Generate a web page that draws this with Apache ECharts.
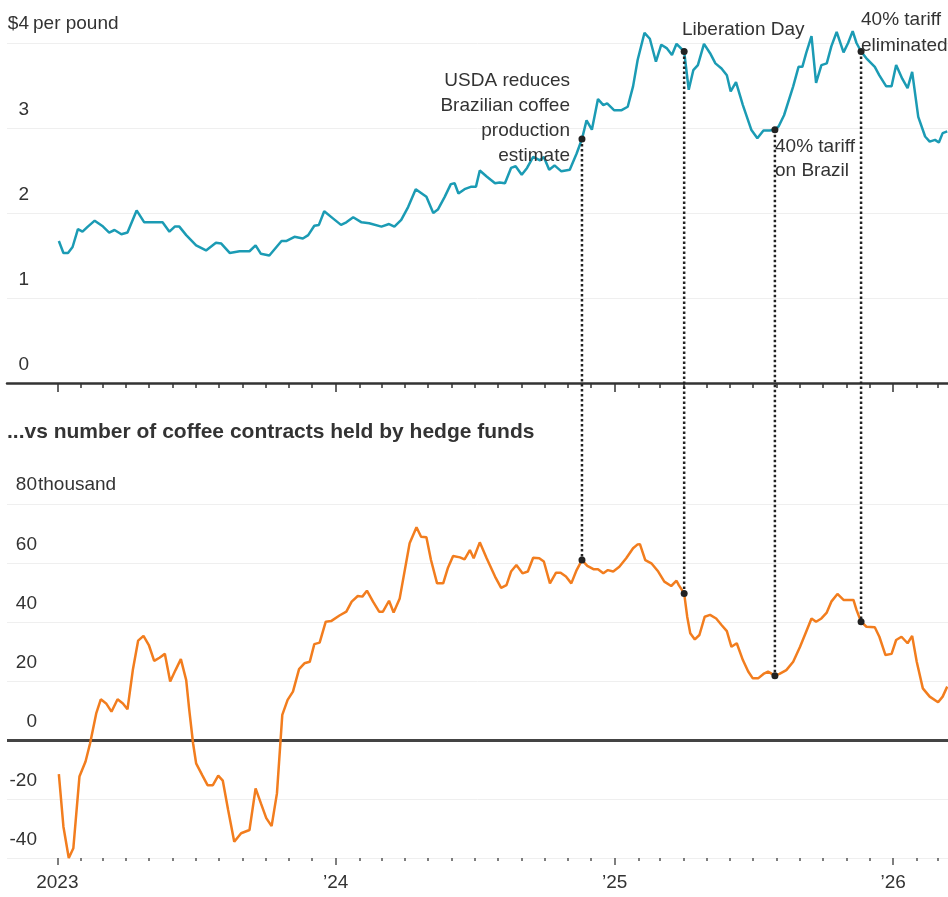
<!DOCTYPE html>
<html>

<head>
    <meta charset="UTF-8">
    <title>Coffee price vs hedge fund contracts</title>
    <script src="https://cdn.jsdelivr.net/npm/echarts@6/dist/echarts.min.js"></script>
    <style>
        html, body { margin: 0; padding: 0; background: #fff; }
        #chartBox { width: 948px; height: 897px; }
    </style>
</head>

<body>
    <div id="chartBox"></div>

    <script>
        // arabica coffee price, $ per pound
        var priceDates = ['2023-01-03', '2023-01-09', '2023-01-15', '2023-01-21', '2023-01-28', '2023-02-03', '2023-02-10', '2023-02-19',
            '2023-03-02', '2023-03-10', '2023-03-17', '2023-03-26', '2023-04-03', '2023-04-15', '2023-04-25', '2023-05-19',
            '2023-05-28', '2023-06-04', '2023-06-10', '2023-06-19', '2023-07-02', '2023-07-15', '2023-07-28', '2023-08-04',
            '2023-08-15', '2023-08-28', '2023-09-10', '2023-09-18', '2023-09-25', '2023-10-06', '2023-10-22', '2023-10-28',
            '2023-11-08', '2023-11-19', '2023-11-26', '2023-12-04', '2023-12-10', '2023-12-17', '2023-12-28', '2024-01-08',
            '2024-01-15', '2024-01-24', '2024-02-04', '2024-02-14', '2024-03-01', '2024-03-11', '2024-03-18', '2024-03-27',
            '2024-04-05', '2024-04-15', '2024-04-29', '2024-05-08', '2024-05-14', '2024-05-23', '2024-05-31', '2024-06-05',
            '2024-06-10', '2024-06-18', '2024-06-27', '2024-07-03', '2024-07-08', '2024-07-17', '2024-07-28', '2024-08-03',
            '2024-08-10', '2024-08-18', '2024-08-24', '2024-09-01', '2024-09-08', '2024-09-16', '2024-09-25', '2024-09-30',
            '2024-10-07', '2024-10-14', '2024-10-23', '2024-11-03', '2024-11-12', '2024-11-19', '2024-11-25', '2024-12-02',
            '2024-12-10', '2024-12-17', '2024-12-22', '2024-12-31', '2025-01-10', '2025-01-18', '2025-01-25', '2025-01-31',
            '2025-02-09', '2025-02-16', '2025-02-24', '2025-03-03', '2025-03-10', '2025-03-17', '2025-03-23', '2025-04-02',
            '2025-04-08', '2025-04-14', '2025-04-20', '2025-04-28', '2025-05-06', '2025-05-13', '2025-05-21', '2025-05-28',
            '2025-06-02', '2025-06-09', '2025-06-18', '2025-06-29', '2025-07-07', '2025-07-15', '2025-07-23', '2025-07-30',
            '2025-08-04', '2025-08-11', '2025-08-23', '2025-08-30', '2025-09-04', '2025-09-09', '2025-09-16', '2025-09-22',
            '2025-09-29', '2025-10-06', '2025-10-12', '2025-10-19', '2025-10-28', '2025-11-03', '2025-11-09', '2025-11-14',
            '2025-11-20', '2025-11-27', '2025-12-08', '2025-12-14', '2025-12-23', '2025-12-30', '2026-01-05', '2026-01-13',
            '2026-01-20', '2026-01-26', '2026-02-03', '2026-02-12', '2026-02-18', '2026-02-25', '2026-03-02', '2026-03-07',
            '2026-03-13'];
        var priceValues = [1.67, 1.53, 1.53, 1.60, 1.81, 1.78, 1.84, 1.91,
            1.84, 1.77, 1.80, 1.75, 1.77, 2.03, 1.89, 1.89,
            1.78, 1.84, 1.84, 1.74, 1.62, 1.56, 1.65, 1.64,
            1.53, 1.55, 1.55, 1.62, 1.52, 1.50, 1.67, 1.67,
            1.72, 1.70, 1.74, 1.85, 1.86, 2.02, 1.94, 1.86,
            1.89, 1.95, 1.89, 1.88, 1.84, 1.87, 1.84, 1.92,
            2.07, 2.28, 2.19, 2.00, 2.04, 2.19, 2.34, 2.35,
            2.23, 2.28, 2.31, 2.31, 2.50, 2.43, 2.35, 2.36,
            2.35, 2.53, 2.55, 2.45, 2.53, 2.66, 2.62, 2.66,
            2.51, 2.56, 2.49, 2.51, 2.70, 2.87, 3.09, 2.98,
            3.34, 3.27, 3.29, 3.21, 3.21, 3.25, 3.49, 3.80,
            4.12, 4.05, 3.78, 3.98, 3.94, 3.86, 3.99, 3.90,
            3.45, 3.68, 3.74, 3.99, 3.88, 3.76, 3.70, 3.62,
            3.43, 3.54, 3.27, 2.98, 2.88, 2.97, 2.97, 2.98,
            3.02, 3.15, 3.49, 3.72, 3.72, 3.88, 4.08, 3.53,
            3.74, 3.76, 3.96, 4.13, 3.89, 4.00, 4.14, 4.00,
            3.90, 3.82, 3.72, 3.62, 3.49, 3.49, 3.74, 3.58,
            3.47, 3.66, 3.13, 2.90, 2.84, 2.86, 2.83, 2.94,
            2.96];

        // net coffee contracts held by hedge funds, thousands
        var fundDates = ['2023-01-03', '2023-01-09', '2023-01-16', '2023-01-22', '2023-01-30', '2023-02-07', '2023-02-13', '2023-02-21',
            '2023-02-27', '2023-03-06', '2023-03-13', '2023-03-21', '2023-03-28', '2023-04-03', '2023-04-10', '2023-04-17',
            '2023-04-24', '2023-05-01', '2023-05-08', '2023-05-15', '2023-05-22', '2023-05-29', '2023-06-05', '2023-06-12',
            '2023-06-19', '2023-06-23', '2023-06-28', '2023-07-02', '2023-07-10', '2023-07-17', '2023-07-24', '2023-07-31',
            '2023-08-06', '2023-08-13', '2023-08-21', '2023-08-30', '2023-09-10', '2023-09-18', '2023-09-25', '2023-10-02',
            '2023-10-09', '2023-10-16', '2023-10-23', '2023-10-30', '2023-11-06', '2023-11-14', '2023-11-21', '2023-11-28',
            '2023-12-04', '2023-12-11', '2023-12-19', '2023-12-26', '2024-01-06', '2024-01-15', '2024-01-22', '2024-01-30',
            '2024-02-05', '2024-02-11', '2024-02-19', '2024-02-27', '2024-03-03', '2024-03-11', '2024-03-17', '2024-03-25',
            '2024-04-07', '2024-04-16', '2024-04-22', '2024-04-29', '2024-05-05', '2024-05-13', '2024-05-21', '2024-05-27',
            '2024-06-03', '2024-06-12', '2024-06-18', '2024-06-25', '2024-06-30', '2024-07-08', '2024-07-17', '2024-07-28',
            '2024-08-05', '2024-08-12', '2024-08-18', '2024-08-25', '2024-09-02', '2024-09-09', '2024-09-16', '2024-09-24',
            '2024-09-30', '2024-10-08', '2024-10-16', '2024-10-22', '2024-10-29', '2024-11-05', '2024-11-12', '2024-11-19',
            '2024-11-26', '2024-12-04', '2024-12-10', '2024-12-17', '2024-12-23', '2024-12-30', '2025-01-07', '2025-01-16',
            '2025-01-25', '2025-01-31', '2025-02-03', '2025-02-10', '2025-02-18', '2025-02-27', '2025-03-07', '2025-03-16',
            '2025-03-23', '2025-03-26', '2025-04-02', '2025-04-06', '2025-04-10', '2025-04-16', '2025-04-22', '2025-04-29',
            '2025-05-06', '2025-05-14', '2025-05-21', '2025-05-28', '2025-06-03', '2025-06-10', '2025-06-18', '2025-06-25',
            '2025-07-01', '2025-07-08', '2025-07-15', '2025-07-21', '2025-07-30', '2025-08-05', '2025-08-14', '2025-08-23',
            '2025-09-01', '2025-09-09', '2025-09-16', '2025-09-22', '2025-09-29', '2025-10-06', '2025-10-12', '2025-10-20',
            '2025-10-28', '2025-11-03', '2025-11-10', '2025-11-14', '2025-11-20', '2025-11-27', '2025-12-08', '2025-12-14',
            '2025-12-22', '2025-12-30', '2026-01-05', '2026-01-12', '2026-01-20', '2026-01-26', '2026-02-01', '2026-02-09',
            '2026-02-18', '2026-03-01', '2026-03-07', '2026-03-13'];
        var fundValues = [-11.6, -29.4, -40.0, -36.7, -12.4, -7.3, -1.1, 9.0,
            13.8, 12.4, 9.6, 13.8, 12.4, 10.4, 23.7, 33.7,
            35.3, 32.2, 26.8, 27.9, 29.2, 19.8, 23.7, 27.4,
            20.3, 10.2, -1.1, -7.9, -11.9, -15.3, -15.3, -12.1,
            -13.8, -23.7, -34.5, -31.6, -30.5, -16.4, -21.5, -26.5,
            -29.2, -18.1, 8.5, 13.6, 16.4, 24.0, 26.0, 26.5,
            32.5, 33.0, 40.1, 40.3, 42.2, 43.5, 46.9, 48.8,
            48.6, 50.6, 46.9, 43.5, 43.5, 47.2, 43.2, 48.0,
            66.7, 72.1, 68.9, 68.7, 61.0, 53.1, 53.1, 58.2,
            62.4, 61.9, 61.2, 64.4, 61.6, 67.0, 61.6, 55.4,
            51.6, 52.5, 57.1, 59.3, 56.5, 57.1, 61.8, 61.6,
            60.5, 53.1, 56.7, 56.7, 55.4, 53.1, 57.6, 61.0,
            59.0, 57.9, 57.9, 56.5, 57.6, 57.1, 58.7, 61.6,
            65.0, 66.3, 66.4, 61.0, 59.9, 57.1, 53.7, 52.2,
            54.0, 52.5, 49.7, 41.8, 36.2, 34.1, 35.6, 41.8,
            42.4, 41.2, 39.0, 36.9, 31.6, 32.8, 27.1, 23.2,
            20.9, 20.9, 22.4, 23.2, 21.8, 22.4, 23.7, 26.5,
            31.6, 36.7, 41.2, 40.1, 41.2, 43.2, 46.9, 49.5,
            47.5, 47.5, 47.5, 44.1, 40.1, 38.4, 38.2, 35.0,
            28.8, 29.2, 33.9, 35.0, 32.8, 35.3, 26.5, 17.5,
            14.7, 12.8, 14.7, 18.1];

        // marked events (dots on both lines)
        var eventDates = ['2024-11-19', '2025-04-02', '2025-07-30', '2025-11-20'];
        var eventPrices = [2.87, 3.90, 2.98, 3.90];
        var eventFunds = [61.0, 49.7, 21.8, 40.1];

        // tick labels
        var yearLabels = ['2023', '\u201924', '\u201925', '\u201926'];
        var yearStarts = ['2023-01-01', '2024-01-01', '2025-01-01', '2026-01-01'];

        var FONT = '"Liberation Sans", Arial, sans-serif';
        var FONT_SIZE = 19;
        var TEAL = '#1b9bb4';
        var ORANGE = '#f27d1e';

        // yyyy-mm-dd -> local timestamp
        function ts(s) {
            var p = s.split('-');
            return new Date(+p[0], +p[1] - 1, +p[2]).getTime();
        }

        function monthTicks() {
            var t = [];
            for (var y = 2023; y <= 2026; y++) {
                for (var m = 0; m < 12; m++) {
                    if (y === 2026 && m > 2) break;
                    t.push(new Date(y, m, 1).getTime());
                }
            }
            return t;
        }

        initChart('chartBox');

        function initChart(idname) {
            var myChart = echarts.init(document.getElementById(idname));
            var xMin = ts('2022-10-27');
            var xMax = ts('2026-03-14');
            var months = monthTicks();
            var years = yearStarts.map(ts);

            // dates are kept as timestamps on a value axis, ticks placed on month starts
            function dateAxis(gridIndex, showLine, ticks, tickLen, tickColor, withLabels) {
                return {
                    type: 'value',
                    gridIndex: gridIndex,
                    position: 'bottom',
                    min: xMin,
                    max: xMax,
                    axisLine: {
                        show: showLine,
                        onZero: false,
                        lineStyle: { color: '#333', width: 2.5 }
                    },
                    axisTick: {
                        show: true,
                        customValues: ticks,
                        length: tickLen,
                        lineStyle: { color: tickColor, width: 1.5 }
                    },
                    axisLabel: withLabels ? {
                        show: true,
                        customValues: years,
                        margin: 15,
                        color: '#333',
                        fontSize: FONT_SIZE,
                        fontFamily: FONT,
                        formatter: function (value) {
                            var y = new Date(value).getFullYear();
                            return yearLabels[y - 2023];
                        }
                    } : { show: false },
                    splitLine: { show: false }
                };
            }

            function valueAxis(gridIndex, min, max, interval, offset, topValue) {
                return {
                    type: 'value',
                    gridIndex: gridIndex,
                    min: min,
                    max: max,
                    interval: interval,
                    offset: offset,
                    axisLine: { show: false },
                    axisTick: { show: false },
                    axisLabel: {
                        color: '#333',
                        fontSize: FONT_SIZE,
                        fontFamily: FONT,
                        margin: 0,
                        verticalAlign: 'bottom',
                        padding: [0, 0, 9, 0],
                        formatter: function (v) {
                            return v === topValue ? '' : String(v);
                        }
                    },
                    splitLine: {
                        show: true,
                        lineStyle: { color: '#efefef', width: 1 }
                    }
                };
            }

            var option = {
                animation: false,
                backgroundColor: '#fff',
                grid: [
                    { left: 7, right: 0, top: 43, height: 340, outerBoundsMode: 'none' },
                    { left: 7, right: 0, top: 504, height: 354, outerBoundsMode: 'none' }
                ],
                xAxis: [
                    dateAxis(0, true, months, 5, '#333', false),
                    dateAxis(0, false, years, 9, '#333', false),
                    dateAxis(1, false, months, 3, '#555', false),
                    dateAxis(1, false, years, 7, '#555', true)
                ],
                yAxis: [
                    valueAxis(0, 0, 4, 1, -22, 4),
                    valueAxis(1, -40, 80, 20, -30, 80)
                ],
                series: [{
                    type: 'line',
                    xAxisIndex: 0,
                    yAxisIndex: 0,
                    data: priceDates.map(function (d, i) { return [ts(d), priceValues[i]]; }),
                    showSymbol: false,
                    clip: false,
                    lineStyle: { color: TEAL, width: 2.5 },
                    z: 3
                }, {
                    type: 'line',
                    xAxisIndex: 2,
                    yAxisIndex: 1,
                    data: fundDates.map(function (d, i) { return [ts(d), fundValues[i]]; }),
                    showSymbol: false,
                    clip: false,
                    lineStyle: { color: ORANGE, width: 2.5 },
                    z: 3,
                    markLine: {
                        silent: true,
                        symbol: ['none', 'none'],
                        label: { show: false },
                        lineStyle: { color: '#444', width: 3, type: 'solid' },
                        data: [{ yAxis: 0 }],
                        z: 2
                    }
                }]
            };

            myChart.setOption(option);

            // dotted event lines + dots, positioned through the chart's scales
            var items = [];
            eventDates.forEach(function (d, i) {
                var p1 = myChart.convertToPixel({ seriesIndex: 0 }, [ts(d), eventPrices[i]]);
                var p2 = myChart.convertToPixel({ seriesIndex: 1 }, [ts(d), eventFunds[i]]);
                items.push({
                    type: 'line',
                    z: 10,
                    shape: { x1: p1[0], y1: p1[1], x2: p2[0], y2: p2[1] },
                    style: { stroke: '#222', lineWidth: 2.5, lineDash: [2.5, 2.5] }
                });
                items.push({ type: 'circle', z: 11, shape: { cx: p1[0], cy: p1[1], r: 3.5 }, style: { fill: '#222' } });
                items.push({ type: 'circle', z: 11, shape: { cx: p2[0], cy: p2[1], r: 3.5 }, style: { fill: '#222' } });
            });

            function label(text, x, y, align, vAlign, lineHeight, font) {
                return {
                    type: 'text',
                    z: 12,
                    x: x,
                    y: y,
                    style: {
                        text: text,
                        textAlign: align,
                        textVerticalAlign: vAlign,
                        lineHeight: lineHeight,
                        font: font || (FONT_SIZE + 'px ' + FONT),
                        fill: '#333'
                    }
                };
            }

            // unit labels next to the top ticks
            items.push(label('$4', 29, 24, 'right', 'middle', 20));
            items.push(label('per pound', 33, 24, 'left', 'middle', 20));
            items.push(label('80', 37, 485, 'right', 'middle', 20));
            items.push(label('thousand', 38, 485, 'left', 'middle', 20));

            // section title
            items.push(label('...vs number of coffee contracts held by hedge funds', 7, 432, 'left', 'middle', 24,
                'bold 21px ' + FONT));

            // event notes
            items.push(label('USDA reduces\nBrazilian coffee\nproduction\nestimate', 570, 68, 'right', 'top', 25));
            items.push(label('Liberation Day', 682, 30, 'left', 'middle', 24));
            items.push(label('40% tariff\non Brazil', 775, 135, 'left', 'top', 24));
            items.push(label('40% tariff\neliminated', 861, 7, 'left', 'top', 26));

            myChart.setOption({ graphic: items });
        }
    </script>

</body>

</html>
